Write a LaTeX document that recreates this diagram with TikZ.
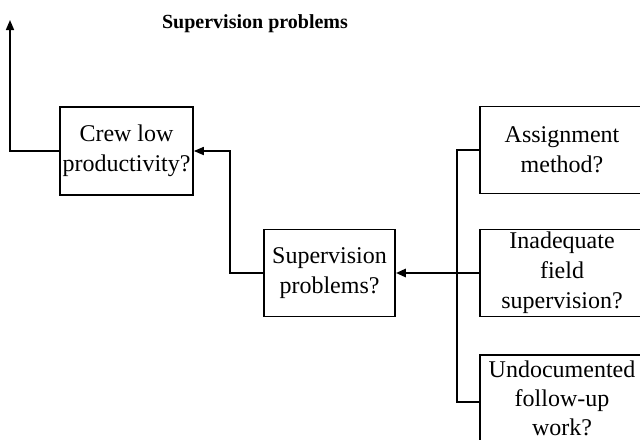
\documentclass[tikz,border=0pt]{standalone}
\usepackage{fontspec}
\setmainfont{Liberation Serif}
\usepackage{tikz}
\usetikzlibrary{arrows.meta,positioning,calc}
\tikzstyle{cause} = [draw, line width=0.8pt, rectangle, align=center, inner sep=0pt, font=\fontsize{12}{15}\selectfont]

\begin{document}
\begin{tikzpicture}[x=0.5pt, y=-0.5pt, line width=0.8pt, >={Triangle[length=5pt,width=4pt]}]
    \useasboundingbox (0,0) rectangle (640,439);

    % Heading
    \node[font=\fontsize{10}{12}\selectfont\bfseries] (title) at (255,24) {Supervision problems};

    % Left part of the chain
    \node[cause, minimum width=66.5pt, minimum height=44pt] (crew) at (126.5,151) {Crew low\\productivity?};
    \node[cause, minimum width=65.5pt, minimum height=43.5pt] (sup) at (329.5,273) {Supervision\\problems?};

    % Possible causes on the right
    \node[cause, minimum width=82pt, minimum height=43.5pt] (assign) at (562,150) {Assignment\\method?};
    \node[cause, minimum width=82pt, minimum height=43.5pt] (field) at (562,273) {Inadequate\\field\\supervision?};
    \node[cause, minimum width=82pt, minimum height=44pt, anchor=north,
          font=\fontsize{12}{14.5}\selectfont] (undoc) at (562,354) {Undocumented\\follow-up\\work?};

    % Junction points
    \coordinate (out) at (10,20);
    \coordinate (j1) at (230,273);
    \coordinate (bus) at (457,273);

    % Connectors
    \draw[->] (crew.west) -| (out);
    \draw[->] (sup.west) -- (j1) |- (crew.east);
    \draw (assign.west) -| (bus);
    \draw (undoc.west |- 0,402) -| (bus);
    \draw (field.west) -- (bus);
    \draw[->, line width=1.4pt] (bus) -- (sup.east);
\end{tikzpicture}
\end{document}
